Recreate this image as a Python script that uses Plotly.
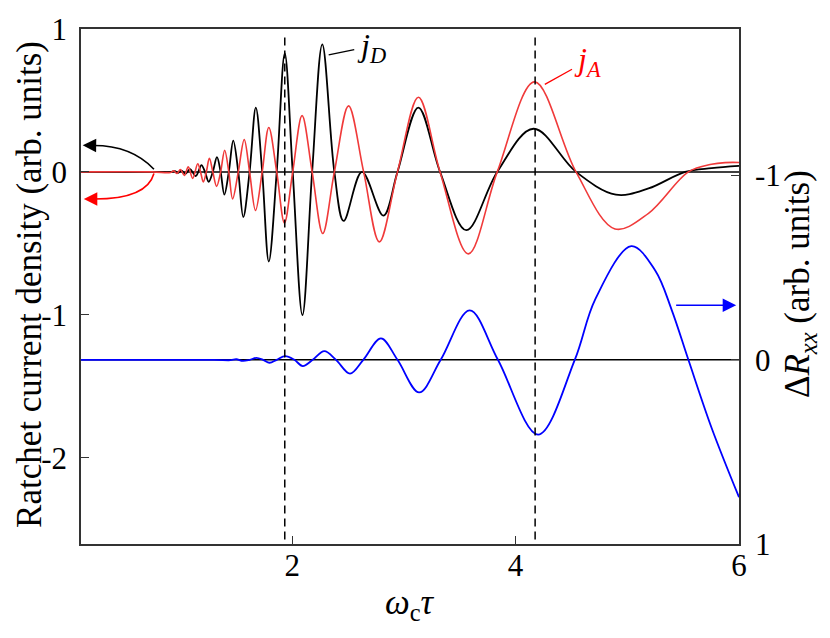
import plotly.graph_objects as go

# ---- data ----
jd_x = [0.11, 0.75, 0.92, 0.95, 0.98, 1.01, 1.045, 1.085, 1.137, 1.16, 1.188, 1.22, 1.253, 1.29, 1.327, 1.36,
        1.393, 1.433, 1.473, 1.518, 1.5625, 1.619, 1.675, 1.732, 1.791, 1.862, 1.934, 2.005, 2.092,
        2.179, 2.27, 2.378, 2.461, 2.625, 2.817, 2.943, 3.13, 3.324, 3.559, 3.836, 4.16, 4.541,
        4.898, 5.19, 5.518, 5.755, 6.0]
jd_y = [0.0, 0.0, 0.0, 0.005, -0.006, 0.009, -0.013, 0.02, -0.03, 0.0, 0.048, 0.0, -0.069, 0.0, 0.104, 0.0,
        -0.159, 0.0, 0.219, 0.0, -0.316, 0.0, 0.45, 0.0, -0.627, 0.0, 0.83, 0.0, -1.003,
        0.0, 0.893, 0.0, -0.343, 0.0, -0.306, 0.0, 0.45, 0.0, -0.408, 0.0, 0.302, 0.0,
        -0.159, -0.116, 0.0, 0.026, 0.042]

ja_x = [0.11, 0.75, 0.91, 0.94, 0.97, 1.0, 1.035, 1.07, 1.11, 1.155, 1.18, 1.205, 1.232, 1.259, 1.29, 1.324,
        1.36, 1.396, 1.433, 1.467, 1.518, 1.571, 1.619, 1.672, 1.732, 1.791, 1.862, 1.931, 2.005,
        2.089, 2.179, 2.274, 2.378, 2.505, 2.64, 2.78, 2.943, 3.13, 3.324, 3.577, 3.836, 4.17,
        4.541, 4.89, 5.19, 5.547, 5.755, 5.875, 6.0]
ja_y = [0.0, 0.0, -0.004, 0.007, -0.011, 0.017, -0.025, 0.035, -0.045, 0.057, 0.0, -0.07, 0.0, 0.095, 0.0, -0.101,
        0.0, 0.152, 0.0, -0.189, 0.0, 0.226, 0.0, -0.27, 0.0, 0.311, 0.0, -0.357, 0.0,
        0.394, 0.0, -0.431, 0.0, 0.462, 0.0, -0.49, 0.0, 0.522, 0.0, -0.574, 0.0, 0.63,
        0.0, -0.399, -0.29, 0.0, 0.053, 0.065, 0.066]

rxx_x = [0.11, 1.3, 1.45, 1.5, 1.559, 1.62, 1.679, 1.74, 1.797, 1.862, 1.9375, 2.02, 2.095, 2.184,
         2.288, 2.393, 2.518, 2.637, 2.795, 2.943, 3.137, 3.33, 3.589, 3.842, 4.202, 4.53,
         4.714, 5.036, 5.25, 5.398, 5.547, 5.755, 6.0]
rxx_y = [0.0, 0.0, 0.002, -0.003, 0.006, 0.0, -0.01, 0.0, 0.016, 0.0, -0.02, 0.0, 0.034, 0.0,
         -0.047, 0.0, 0.075, 0.0, -0.116, 0.0, 0.177, 0.0, -0.268, 0.0, 0.406, 0.0,
         -0.33, -0.617, -0.485, -0.27, 0.0, 0.37, 0.746]

dashed_x = [1.934, 4.175]
x_ticks = [2, 4, 6]
y_ticks = [1, 0, -1, -2]
y_ticktext = ["1", "0", "-1", "-2"]
y2_ticks = [-1, 0, 1]
y2_ticktext = ["-1", "0", "1"]

FONT = "Liberation Serif, Times New Roman, serif"
RED = "#f03a3a"
XMIN, XMAX = 0.11, 6.0
YMIN, YMAX = -2.604, 1.0
Y2MIN, Y2MAX = 1.0, -1.796
TICK_SIZE = 31
TITLE_SIZE = 35

fig = go.Figure()
fig.add_trace(go.Scatter(x=jd_x, y=jd_y, mode="lines", line=dict(color="black", width=1.8, shape="spline", smoothing=1.0),
                         showlegend=False, hoverinfo="skip"))
fig.add_trace(go.Scatter(x=ja_x, y=ja_y, mode="lines", line=dict(color=RED, width=1.6, shape="spline", smoothing=1.0),
                         showlegend=False, hoverinfo="skip"))
fig.add_trace(go.Scatter(x=rxx_x, y=rxx_y, yaxis="y2", mode="lines",
                         line=dict(color="#0000ff", width=1.8, shape="spline", smoothing=1.0),
                         showlegend=False, hoverinfo="skip"))

shapes = []
shapes.append(dict(type="line", xref="x", yref="y", x0=XMIN, x1=XMAX, y0=0, y1=0,
                   line=dict(color="black", width=1.5), layer="below"))
shapes.append(dict(type="line", xref="x", yref="y2", x0=XMIN, x1=XMAX, y0=0, y1=0,
                   line=dict(color="black", width=1.5), layer="below"))
for xv in dashed_x:
    shapes.append(dict(type="line", xref="x", yref="y", x0=xv, x1=xv, y0=0.94, y1=YMIN,
                       line=dict(color="black", width=1.5, dash="8px,5px"), layer="above"))
shapes.append(dict(type="path", xref="x", yref="y", path="M 0.763 0.019 Q 0.56 0.188 0.21 0.185",
                   line=dict(color="black", width=1.6)))
shapes.append(dict(type="path", xref="x", yref="y", path="M 0.763 -0.011 Q 0.70 -0.19 0.23 -0.19",
                   line=dict(color="red", width=1.6)))
shapes.append(dict(type="line", xref="x", yref="y", x0=2.327, y0=0.819, x1=2.556, y1=0.855,
                   line=dict(color="black", width=1.3)))
shapes.append(dict(type="line", xref="x", yref="y", x0=4.262, y0=0.612, x1=4.505, y1=0.718,
                   line=dict(color="red", width=1.3)))

annotations = [
    dict(x=0.125, y=0.186, ax=0.23, ay=0.185, xref="x", yref="y", axref="x", ayref="y", text="",
         showarrow=True, arrowhead=2, arrowsize=1.8, arrowwidth=1.5, arrowcolor="black"),
    dict(x=0.135, y=-0.19, ax=0.25, ay=-0.19, xref="x", yref="y", axref="x", ayref="y", text="",
         showarrow=True, arrowhead=2, arrowsize=1.8, arrowwidth=1.5, arrowcolor="red"),
    dict(x=5.975, y=-0.934, ax=5.424, ay=-0.934, xref="x", yref="y", axref="x", ayref="y", text="",
         showarrow=True, arrowhead=2, arrowsize=1.8, arrowwidth=1.5, arrowcolor="#0000ff"),
    dict(x=2.708, y=0.87, xref="x", yref="y", text="<i>j</i><sub><i>D</i></sub>", showarrow=False,
         xanchor="center", yanchor="middle", font=dict(family=FONT, size=32, color="black")),
    dict(x=4.645, y=0.77, xref="x", yref="y", text="<i>j</i><sub><i>A</i></sub>", showarrow=False,
         xanchor="center", yanchor="middle", font=dict(family=FONT, size=32, color="red")),
    dict(x=-0.0775, y=0.503, xref="paper", yref="paper", text="Ratchet current density (arb. units)",
         xanchor="center", yanchor="middle",
         textangle=-90, showarrow=False, font=dict(family=FONT, size=TITLE_SIZE, color="black")),
    dict(x=1.093, y=0.505, xref="paper", yref="paper",
         text="Δ<i>R</i><sub><i>xx</i></sub> (arb. units)", xanchor="center", yanchor="middle",
         textangle=-90, showarrow=False, font=dict(family=FONT, size=TITLE_SIZE, color="black")),
    dict(x=0.5, y=-0.117, xref="paper", yref="paper", text="<i>ω</i><sub>c</sub><i>τ</i>",
         xanchor="center", yanchor="middle",
         showarrow=False, font=dict(family=FONT, size=TITLE_SIZE, color="black")),
]

axis_common = dict(showgrid=False, zeroline=False, showline=True, linecolor="#333333", linewidth=1.5,
                   ticks="inside", ticklen=8, tickwidth=1.3, tickcolor="#333333",
                   tickfont=dict(family=FONT, size=TICK_SIZE, color="black"))

fig.update_layout(
    width=830, height=638,
    margin=dict(l=81, r=91, t=23, b=94),
    plot_bgcolor="white", paper_bgcolor="white",
    xaxis=dict(range=[XMIN, XMAX], tickvals=x_ticks, ticktext=[str(v) for v in x_ticks], mirror=True,
               ticklabelstandoff=-7, **axis_common),
    yaxis=dict(range=[YMIN, YMAX], tickvals=y_ticks, ticktext=y_ticktext, ticklabelstandoff=6, **axis_common),
    yaxis2=dict(range=[Y2MIN, Y2MAX], tickvals=y2_ticks, ticktext=y2_ticktext, overlaying="y", side="right",
                ticklabelstandoff=8, **axis_common),
    shapes=shapes,
    annotations=annotations,
    showlegend=False,
)

fig.write_html("out.html", config={"displayModeBar": False},
               post_script="document.body.style.margin='0px';")
